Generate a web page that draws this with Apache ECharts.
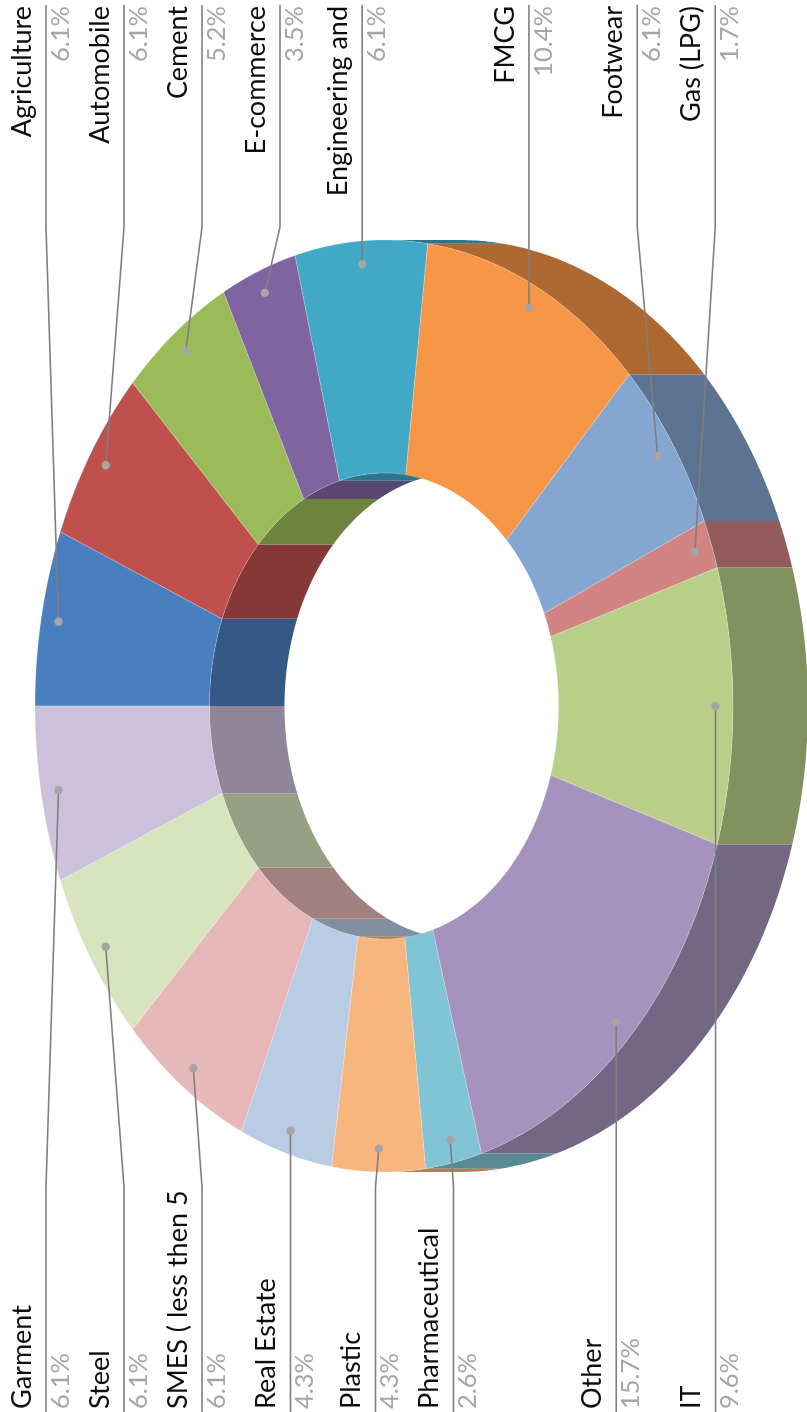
<!DOCTYPE html>
<html><head><meta charset="utf-8">
<script src="https://cdn.jsdelivr.net/npm/echarts@6/dist/echarts.min.js"></script>
<style>html,body{margin:0;padding:0;background:#fff}#chart{width:807px;height:1412px}</style>
</head><body><div id="chart"></div>
<script>
// ---------- data ----------
const categories = ['Agriculture','Automobile','Cement','E-commerce','Engineering and','FMCG','Footwear','Gas (LPG)','IT','Other','Pharmaceutical','Plastic','Real Estate','SMES ( less then 5','Steel','Garment'];
const shares = [6.1,6.1,5.2,3.5,6.1,10.4,6.1,1.7,9.6,15.7,2.6,4.3,4.3,6.1,6.1,6.1];
const sliceColors = ['#4A7FBF','#C0504D','#9BBB59','#8064A2','#41A9C6','#F79646','#84A6D1','#D28482','#B9CF89','#A693BD','#80C4D6','#F8B67F','#B8CCE4','#E6B8B7','#D7E4BD','#CCC1DA'];

// ---------- geometry / style ----------
const CX = 384, CY = 706, RX = 349, RY = 466, INNER = 0.5, DEPTH = 75, DOT_F = 0.95;
const NAME_FONT = '27px Lato', PCT_FONT = '25.5px Lato';
const total = shares.reduce((a, b) => a + b, 0);
const starts = []; let acc = 0; shares.forEach(v => { starts.push(acc); acc += v; });
const rad = v => v / total * 2 * Math.PI;
const pt = (t, f, dx) => [CX - RX * f * Math.cos(t) + (dx || 0), CY - RY * f * Math.sin(t)];
function arc(t1, t2, f, dx) {
  const n = Math.max(2, Math.ceil(Math.abs(t2 - t1) / (Math.PI / 360)));
  const out = [];
  for (let i = 0; i <= n; i++) out.push(pt(t1 + (t2 - t1) * i / n, f, dx));
  return out;
}
function shade(hex, k) {
  const n = parseInt(hex.slice(1), 16);
  const r = Math.round(((n >> 16) & 255) * k), g = Math.round(((n >> 8) & 255) * k), b = Math.round((n & 255) * k);
  return 'rgb(' + r + ',' + g + ',' + b + ')';
}
function wall(t1, t2, f, col) {
  return { type: 'polygon', shape: { points: arc(t1, t2, f, 0).concat(arc(t2, t1, f, DEPTH)) }, style: { fill: shade(col, 0.7) } };
}

// ---------- label layout ----------
const dots = shares.map((v, i) => pt(rad(starts[i] + v / 2), DOT_F, 0));
function spread(idx, gap, minX, maxX) {
  let clusters = idx.map(i => ({ members: [i] }));
  const place = c => {
    const wants = c.members.map(i => dots[i][0]);
    const n = wants.length;
    let s = wants.reduce((a, b) => a + b, 0) / n - (n - 1) / 2 * gap;
    s = Math.max(minX, Math.min(s, maxX - (n - 1) * gap));
    c.pos = c.members.map((_, k) => s + k * gap);
  };
  clusters.forEach(place);
  let changed = true;
  while (changed) {
    changed = false;
    for (let k = 0; k < clusters.length - 1; k++) {
      const a = clusters[k], b = clusters[k + 1];
      if (b.pos[0] - a.pos[a.pos.length - 1] < gap - 0.01) {
        const m = { members: a.members.concat(b.members) };
        place(m);
        clusters.splice(k, 2, m);
        changed = true; break;
      }
    }
  }
  const res = {};
  clusters.forEach(c => c.members.forEach((i, k) => { res[i] = c.pos[k]; }));
  return res;
}
const topIdx = [], botIdx = [];
dots.forEach((d, i) => (d[1] < CY - 1 ? topIdx : botIdx).push(i));
topIdx.sort((a, b) => dots[a][0] - dots[b][0]);
botIdx.sort((a, b) => dots[a][0] - dots[b][0]);
const labelX = Object.assign({}, spread(topIdx, 78, 46, 760), spread(botIdx, 78, 46, 760));

const seriesData = shares.map((v, i) => [starts[i], v]);

function innerWalls(params, api) {
  const i = params.dataIndex;
  const t1 = rad(api.value(0)), t2 = rad(api.value(0) + api.value(1));
  const ch = [];
  if (t1 < Math.PI / 2) ch.push(wall(t1, Math.min(t2, Math.PI / 2), INNER, sliceColors[i]));
  if (t2 > 1.5 * Math.PI) ch.push(wall(Math.max(t1, 1.5 * Math.PI), t2, INNER, sliceColors[i]));
  return { type: 'group', children: ch };
}
function outerWalls(params, api) {
  const i = params.dataIndex;
  const t1 = rad(api.value(0)), t2 = rad(api.value(0) + api.value(1));
  const a = Math.max(t1, Math.PI / 2), b = Math.min(t2, 1.5 * Math.PI);
  const ch = [];
  if (b > a) ch.push(wall(a, b, 1, sliceColors[i]));
  return { type: 'group', children: ch };
}
function topFaces(params, api) {
  const i = params.dataIndex;
  const t1 = rad(api.value(0)), t2 = rad(api.value(0) + api.value(1));
  return {
    type: 'polygon',
    shape: { points: arc(t1, t2, 1, 0).concat(arc(t2, t1, INNER, 0)) },
    style: { fill: sliceColors[i], stroke: 'rgba(255,255,255,0.35)', lineWidth: 0.6 }
  };
}
function labels(params, api) {
  const i = params.dataIndex;
  const d = pt(rad(api.value(0) + api.value(1) / 2), DOT_F, 0);
  const top = d[1] < CY - 1;
  const L = labelX[i];
  const knee = top ? 227 : 1187, edge = top ? 5 : 1412;
  const anchorY = top ? 6 : 1409;
  const align = top ? 'right' : 'left';
  const pct = (api.value(1) / total * 100).toFixed(1) + '%';
  return {
    type: 'group',
    children: [
      { type: 'polyline', shape: { points: [d, [L, knee], [L, edge]] }, style: { stroke: '#7F7F7F', lineWidth: 1.6, fill: null } },
      { type: 'circle', shape: { cx: d[0], cy: d[1], r: 4.2 }, style: { fill: '#A5A5A5' } },
      { type: 'text', x: L - 24, y: anchorY, rotation: Math.PI / 2,
        style: { text: categories[i], font: NAME_FONT, fill: '#0D0D0D', align: align, verticalAlign: 'middle' } },
      { type: 'text', x: L + 14.5, y: anchorY, rotation: Math.PI / 2,
        style: { text: pct, font: PCT_FONT, fill: '#A6A6A6', align: align, verticalAlign: 'middle' } }
    ]
  };
}

const chart = echarts.init(document.getElementById('chart'), null, { renderer: 'canvas' });
chart.setOption({
  animation: false,
  backgroundColor: '#ffffff',
  series: [
    { type: 'custom', coordinateSystem: 'none', silent: true, data: seriesData, renderItem: innerWalls },
    { type: 'custom', coordinateSystem: 'none', silent: true, data: seriesData, renderItem: outerWalls },
    { type: 'custom', coordinateSystem: 'none', silent: true, data: seriesData, renderItem: topFaces },
    { type: 'custom', coordinateSystem: 'none', silent: true, data: seriesData, renderItem: labels }
  ]
});
</script>
</body></html>
